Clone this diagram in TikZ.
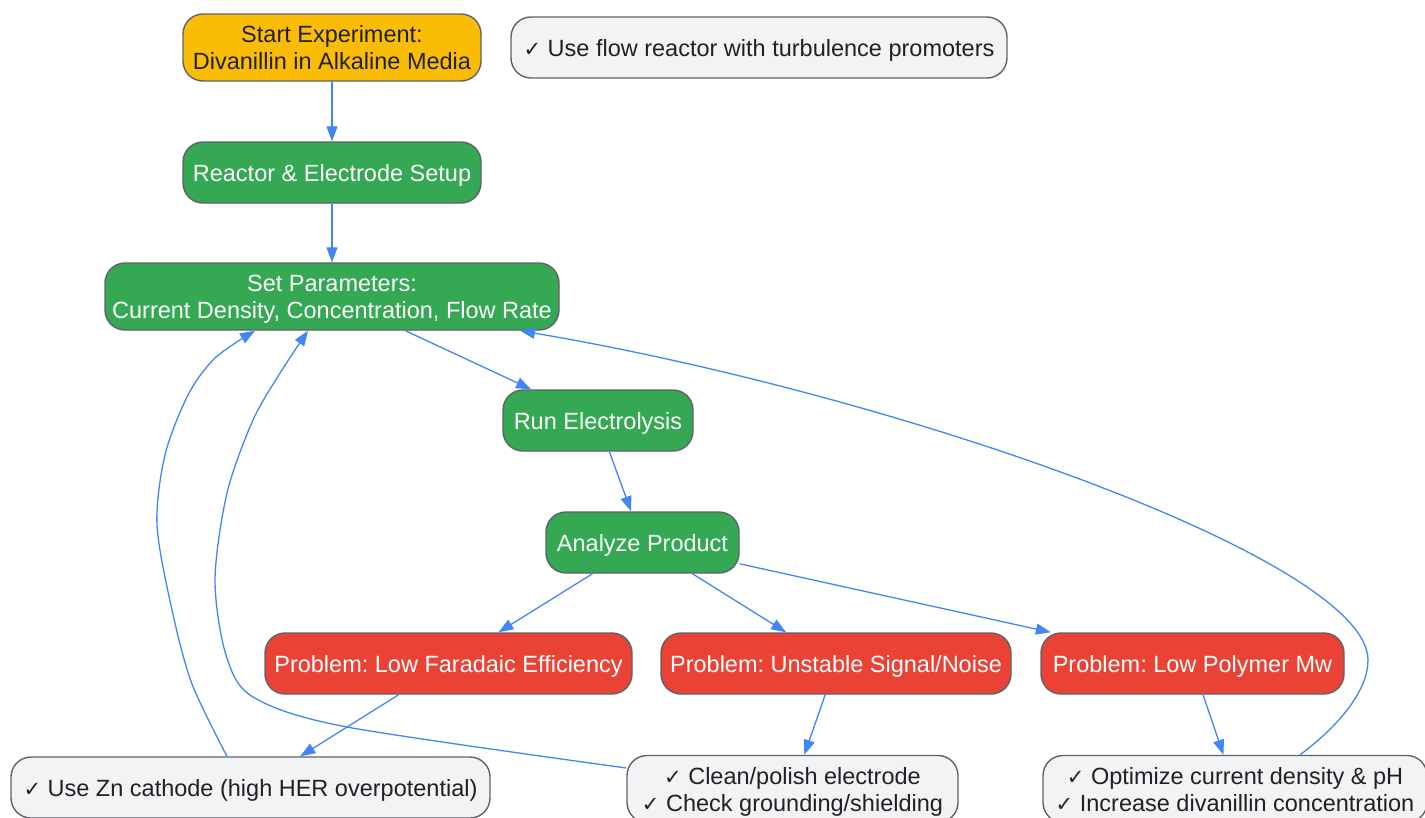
\documentclass[tikz,border=0pt]{standalone}
\usepackage{fontspec}
\setmainfont{Liberation Sans}
\newfontfamily\symfont{DejaVu Sans}
\usetikzlibrary{arrows.meta}
\frenchspacing
\definecolor{cyellow}{HTML}{FBBC05}
\definecolor{cgreen}{HTML}{34A853}
\definecolor{cred}{HTML}{EA4335}
\definecolor{cgray}{HTML}{F1F3F4}
\definecolor{cborder}{HTML}{5F6368}
\definecolor{ctext}{HTML}{202124}
\definecolor{cblue}{HTML}{4285F4}
\newcommand\ck{{\symfont\fontsize{21}{27}\selectfont ✓}}
\tikzset{
  box/.style={draw=cborder, line width=1.4pt, rounded corners=20pt, align=center,
    inner sep=0pt, text depth=0pt, font=\fontsize{23.5}{27}\selectfont\frenchspacing},
  startbox/.style={box, fill=cyellow, text=ctext},
  stepbox/.style={box, fill=cgreen, text=white},
  probbox/.style={box, fill=cred, text=white},
  solbox/.style={box, fill=cgray, text=ctext},
  conn/.style={draw=cblue, line width=1.3pt, -{Triangle[length=15pt,width=11pt]}}
}
\begin{document}
\begin{tikzpicture}[x=1pt,y=-1pt]
\useasboundingbox (0,0) rectangle (1425,817);
\clip (0,0) rectangle (1425,817);
\node[startbox, minimum width=298pt, minimum height=67pt] (start) at (332,47.5) {Start Experiment:\\Divanillin in Alkaline Media};
\node[solbox, minimum width=496pt, minimum height=61pt] (tip) at (759,47.5) {\ck\ Use flow reactor with turbulence promoters};
\node[stepbox, minimum width=298pt, minimum height=61pt] (setup) at (332,172.5) {Reactor \& Electrode Setup};
\node[stepbox, minimum width=454pt, minimum height=67pt] (params) at (332,296.5) {Set Parameters:\\Current Density, Concentration, Flow Rate};
\node[stepbox, minimum width=190pt, minimum height=61pt] (run) at (598,420.5) {Run Electrolysis};
\node[stepbox, minimum width=193pt, minimum height=61pt] (analyze) at (642.5,542.5) {Analyze Product};
\node[probbox, minimum width=367pt, minimum height=61pt] (p1) at (448.5,663.5) {Problem: Low Faradaic Efficiency};
\node[probbox, minimum width=350pt, minimum height=61pt] (p2) at (836,663.5) {Problem: Unstable Signal/Noise};
\node[probbox, minimum width=303pt, minimum height=61pt] (p3) at (1192.5,663.5) {Problem: Low Polymer Mw};
\node[solbox, minimum width=479pt, minimum height=61pt] (s1) at (250.5,787.5) {\ck\ Use Zn cathode (high HER overpotential)};
\node[solbox, minimum width=331pt, minimum height=67pt] (s2) at (792.5,789) {\ck\ Clean/polish electrode\\\ck\ Check grounding/shielding};
\node[solbox, minimum width=384pt, minimum height=67pt] (s3) at (1235,789) {\ck\ Optimize current density \& pH\\\ck\ Increase divanillin concentration};

\draw[conn] (start) -- (setup);
\draw[conn] (setup) -- (params);
\draw[conn] (params) -- (run);
\draw[conn] (run) -- (analyze);
\draw[conn] (analyze) -- (p1);
\draw[conn] (analyze) -- (p2);
\draw[conn] (analyze) -- (p3);
\draw[conn] (p1) -- (s1);
\draw[conn] (p2) -- (s2);
\draw[conn] (p3) -- (s3);

\draw[conn] plot[smooth] coordinates {([xshift=-23.5pt]s1.north) (192,684) (172,610) (157,525) (165,455) (188,395) (215,358) ([xshift=-77pt]params.south)};
\draw[conn] plot[smooth] coordinates {([yshift=21pt]s2.west) (347,727) (253,697) (226,655) (215,580) (227,493) (253,420) (282,370) ([xshift=-24pt]params.south)};
\draw[conn] ([xshift=65pt]s3.north) .. controls (1340,725) and (1368,690) .. (1368,660)
  .. controls (1368,560) and (900,395) .. ([xshift=188pt]params.south);
\end{tikzpicture}
\end{document}
